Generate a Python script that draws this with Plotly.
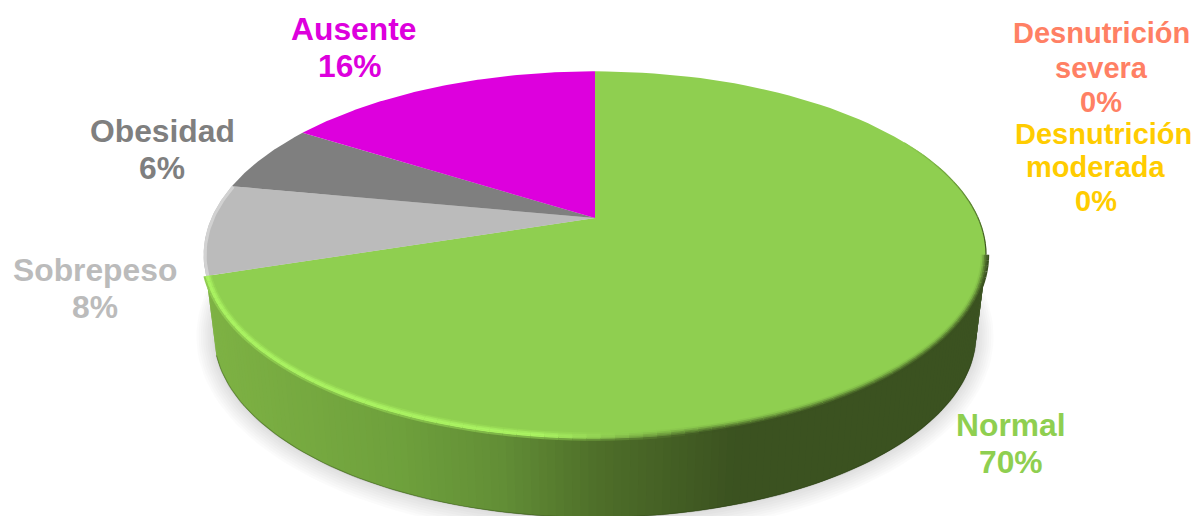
import numpy as np
import plotly.graph_objects as go

# Chart data, clockwise from twelve o'clock
categorias = ["Desnutrición severa", "Desnutrición moderada", "Normal", "Sobrepeso", "Obesidad", "Ausente"]
valores = [0, 0, 70, 8, 6, 16]
colores = ["#FF8064", "#FFCC00", "#8FCF50", "#BBBBBB", "#7F7F7F", "#DD00DD"]

# Text lines of each label with their centre positions on the page
lineas = [
    ["Desnutrición", "severa"], ["Desnutrición", "moderada"], ["Normal"],
    ["Sobrepeso"], ["Obesidad"], ["Ausente"],
]
pos_etiquetas = [
    [(1101, 33), (1101, 68), (1101, 102)],
    [(1103.5, 134), (1095.5, 167), (1095.5, 201)],
    [(1010.5, 425), (1010.5, 462)],
    [(94.5, 270), (94.5, 307)],
    [(162, 131), (162, 168)],
    [(353, 29), (350, 66)],
]
tam_etiquetas = [29, 29, 31.8, 31.8, 31.8, 31.8]

# Perspective disc: top face and base
CX = 595.0
K = 0.2
TOP = dict(a=383.5, b=176.0, y0=218.0)
BASE = dict(a=373.5, b=176.0, y0=297.5)
YC_TOP = 254.0


def proyectar(theta, cara):
    """Project an angle on the unit circle (clockwise from the top) onto a face."""
    u, v = np.sin(theta), -np.cos(theta)
    w = 1 - K * v
    return CX + cara["a"] * u / w, cara["y0"] + cara["b"] * v / w


def mezcla(c1, c2, t):
    t = min(max(t, 0.0), 1.0)
    return tuple(c1[i] + (c2[i] - c1[i]) * t for i in range(3))


def rgb(c):
    return f"rgb({c[0]:.0f},{c[1]:.0f},{c[2]:.0f})"


# Shading of the green side wall, by horizontal position
STOPS_X = [205, 400, 500, 600, 735, 990]
STOPS_C = [(126, 178, 68), (110, 160, 60), (98, 142, 54), (78, 110, 41), (59, 82, 32), (59, 82, 32)]


def color_lateral(x):
    return tuple(np.interp(x, STOPS_X, [c[i] for c in STOPS_C]) for i in range(3))


fig = go.Figure()


def poligono(xs, ys, fill):
    fig.add_trace(go.Scatter(x=xs, y=ys, mode="lines", fill="toself", fillcolor=fill,
                             line=dict(width=0), hoverinfo="skip", showlegend=False))


def trazo(xs, ys, color, ancho):
    fig.add_trace(go.Scatter(x=xs, y=ys, mode="lines", line=dict(color=color, width=ancho),
                             hoverinfo="skip", showlegend=False))


def hacia_dentro(x, y, d):
    """Shift rim points d pixels towards the middle of the top ellipse."""
    return CX + (x - CX) * (1 - d / 391), YC_TOP + (y - YC_TOP) * (1 - d / 183)


# Slice boundaries derived from the values
acum = np.cumsum([0] + valores) / sum(valores) * 2 * np.pi
i_normal = categorias.index("Normal")
i_sobre = categorias.index("Sobrepeso")
fin_normal = acum[i_normal + 1]
fin_sobre = acum[i_sobre + 1]

# Silhouette angles where the rim reaches its horizontal extremes
ang_der = np.arccos(-K)
ang_izq = 2 * np.pi - ang_der

# Soft shadow under the base
t = np.linspace(0, 2 * np.pi, 181)
bx, by = proyectar(t, BASE)
cy = 0.5 * (by.max() + by.min())
for paso in range(8, 0, -1):
    esc = paso * 2.2
    sx = CX + (bx - CX) * (1 + esc / 383)
    sy = cy + (by - cy) * (1 + esc / 183) + paso * 0.3
    poligono(sx, sy, "rgba(0,0,0,0.016)")

# Side wall: grey part
t = np.linspace(fin_normal, ang_izq, 16)
tx, ty = proyectar(t, TOP)
bx, by = proyectar(t, BASE)
poligono(np.r_[tx, bx[::-1]], np.r_[ty, by[::-1]], "#C6C6C6")

# Side wall: green part, in narrow strips following the shading
t = np.linspace(ang_der, fin_normal, 151)
for j in range(len(t) - 1):
    tr = t[j:min(j + 3, len(t))]
    tx, ty = proyectar(tr, TOP)
    bx, by = proyectar(tr, BASE)
    xm = float(0.5 * (tx[0] + tx[1]))
    poligono(np.r_[tx, bx[::-1]], np.r_[ty, by[::-1]], rgb(color_lateral(xm)))

# Dark contact line along the lower edge of the wall
t = np.linspace(ang_der, fin_normal, 120)
bx, by = proyectar(t, BASE)
trazo(bx, by, "rgba(40,60,20,0.35)", 1.2)

# Top face wedges
for i, nombre in enumerate(categorias):
    if valores[i] == 0:
        continue
    t = np.linspace(acum[i], acum[i + 1], 120)
    x, y = proyectar(t, TOP)
    poligono(np.r_[CX, x, CX], np.r_[TOP["y0"], y, TOP["y0"]], colores[i])

# Bevel on the grey slice
t = np.linspace(fin_normal, fin_sobre, 30)
x, y = proyectar(t, TOP)
x, y = hacia_dentro(x, y, 1.5)
trazo(x, y, "#D2D2D2", 3)

# Bevel on the green rim: a soft band from the top colour into the wall,
# bright at the front left and turning into a plain blur at the right
VERDE = (143, 207, 80)
BRILLO = (170, 243, 98)
OSCURO = (59, 82, 32)
CAPAS = [(4.6, 0.08, 0.25), (3.0, 0.3, 0.7), (1.4, 0.6, 1.0), (-0.2, 0.85, 0.95), (-1.8, 1.0, 0.4)]

t = np.linspace(ang_der, fin_normal, 90)
x0, y0 = proyectar(t, TOP)
for d, peso_muro, peso_brillo in CAPAS:
    px, py = hacia_dentro(x0, y0, d)
    for j in range(len(t) - 1):
        xm = 0.5 * (x0[j] + x0[j + 1])
        muro = color_lateral(xm)
        base = mezcla(VERDE, muro, peso_muro)
        if peso_muro == 1.0:
            brillo = mezcla(muro, BRILLO, peso_brillo)
        else:
            brillo = mezcla(VERDE, BRILLO, peso_brillo)
        s = float(np.interp(xm, [540, 700], [1.0, 0.0]))
        trazo(px[j:j + 2], py[j:j + 2], rgb(mezcla(base, brillo, s)), 2.0)

# Thin dark edge where the rim turns towards the back on the right
t = np.linspace(np.radians(62), ang_der, 24)
x0, y0 = proyectar(t, TOP)
x0, y0 = hacia_dentro(x0, y0, 0.4)
for j in range(len(t) - 1):
    f = (j + 1) / (len(t) - 1)
    trazo(x0[j:j + 2], y0[j:j + 2], rgb(mezcla(VERDE, OSCURO, f)), 1.2)

# Labels, one annotation per text line
anotaciones = []
for i, textos in enumerate(lineas):
    contenido = textos + [f"{valores[i]}%"]
    for texto, (px, py) in zip(contenido, pos_etiquetas[i]):
        anotaciones.append(dict(
            x=px, y=py, xref="x", yref="y", text=f"<b>{texto}</b>", showarrow=False,
            xanchor="center", yanchor="middle",
            font=dict(family="Liberation Sans", size=tam_etiquetas[i], color=colores[i]),
        ))

fig.update_layout(
    width=1197, height=516, margin=dict(l=0, r=0, t=0, b=0),
    paper_bgcolor="white", plot_bgcolor="white", showlegend=False,
    xaxis=dict(range=[0, 1197], visible=False, fixedrange=True),
    yaxis=dict(range=[516, 0], visible=False, fixedrange=True),
    annotations=anotaciones,
)
fig.write_html("out.html", config=dict(displayModeBar=False))
